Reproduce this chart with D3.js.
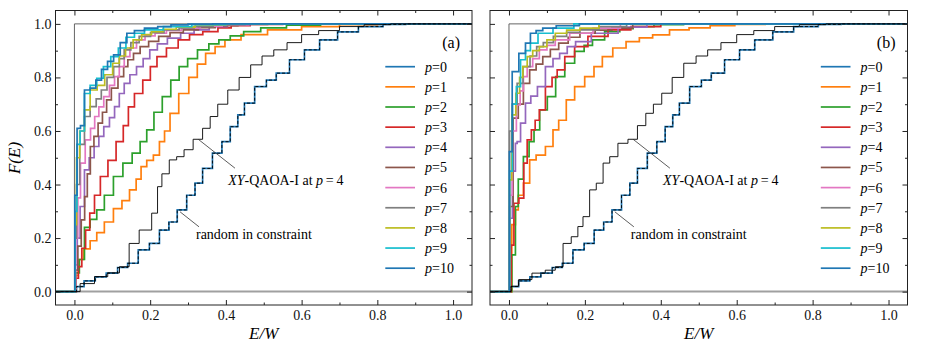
<!DOCTYPE html>
<html><head><meta charset="utf-8">
<script src="https://cdn.jsdelivr.net/npm/d3@7"></script>
<style>body{margin:0;background:#fff} text{font-family:"Liberation Serif","Times New Roman",serif;}</style>
</head><body><svg id="c" width="926" height="347"></svg>
<script>
// ---------- data (E/W, F(E)) ----------
const seriesNames = ["p=0","p=1","p=2","p=3","p=4","p=5","p=6","p=7","p=8","p=9","p=10"];
const colors = ["#1f77b4","#ff7f0e","#2ca02c","#d62728","#9467bd","#8c564b","#e377c2","#7f7f7f","#bcbd22","#17becf","#1f77b4"];
const xTicks = [0,0.2,0.4,0.6,0.8,1.0];
const yTicks = [0,0.2,0.4,0.6,0.8,1.0];
const minorTicks = [0.1,0.3,0.5,0.7,0.9];

// random in constraint (also p=0)
const rnd = [[0,0],[0.011,0.019],[0.04,0.04],[0.07,0.055],[0.098,0.069],[0.13,0.09],[0.151,0.106],[0.186,0.156],[0.21,0.18],[0.239,0.23],[0.26,0.26],[0.283,0.305],[0.31,0.36],[0.327,0.405],[0.35,0.46],[0.379,0.517],[0.4,0.56],[0.423,0.616],[0.44,0.66],[0.458,0.704],[0.494,0.766],[0.52,0.79],[0.546,0.816],[0.59,0.866],[0.625,0.903],[0.67,0.94],[0.72,0.97],[0.78,0.99],[0.85,0.998],[0.9,1]];

// panel (a)
const a_p1 = [[0,0],[0.005,0.06],[0.015,0.12],[0.033,0.16],[0.05,0.19],[0.068,0.22],[0.09,0.26],[0.116,0.31],[0.135,0.34],[0.156,0.38],[0.17,0.42],[0.182,0.467],[0.2,0.49],[0.217,0.51],[0.232,0.56],[0.244,0.6],[0.261,0.666],[0.29,0.74],[0.314,0.8],[0.335,0.85],[0.358,0.89],[0.385,0.915],[0.41,0.94],[0.47,0.96],[0.55,0.978],[0.65,0.99],[0.75,0.997],[0.85,1]];
const a_p2 = [[0,0],[0.006,0.07],[0.02,0.12],[0.033,0.24],[0.05,0.27],[0.068,0.305],[0.09,0.36],[0.116,0.43],[0.14,0.48],[0.165,0.517],[0.182,0.56],[0.2,0.604],[0.22,0.67],[0.244,0.728],[0.265,0.79],[0.288,0.84],[0.31,0.87],[0.34,0.903],[0.37,0.925],[0.393,0.94],[0.43,0.955],[0.464,0.971],[0.52,0.985],[0.6,0.995],[0.7,1]];
const a_p3 = [[0,0],[0.006,0.05],[0.015,0.093],[0.024,0.162],[0.035,0.23],[0.046,0.293],[0.06,0.36],[0.077,0.43],[0.1,0.49],[0.12,0.56],[0.138,0.62],[0.147,0.69],[0.17,0.74],[0.191,0.79],[0.21,0.84],[0.226,0.878],[0.26,0.91],[0.288,0.94],[0.32,0.96],[0.358,0.971],[0.4,0.985],[0.428,0.993],[0.5,0.998],[0.6,1]];
const a_p4 = [[0,0],[0.005,0.1],[0.01,0.2],[0.02,0.318],[0.033,0.455],[0.045,0.5],[0.059,0.542],[0.07,0.58],[0.085,0.616],[0.1,0.65],[0.112,0.691],[0.125,0.74],[0.138,0.778],[0.155,0.81],[0.173,0.84],[0.19,0.87],[0.208,0.903],[0.23,0.925],[0.261,0.947],[0.3,0.965],[0.332,0.978],[0.38,0.99],[0.428,0.996],[0.5,1]];
const a_p5 = [[0,0],[0.006,0.08],[0.012,0.17],[0.024,0.268],[0.03,0.355],[0.038,0.44],[0.046,0.542],[0.057,0.58],[0.068,0.629],[0.08,0.67],[0.09,0.716],[0.105,0.76],[0.125,0.803],[0.135,0.84],[0.147,0.866],[0.165,0.89],[0.182,0.915],[0.21,0.935],[0.235,0.953],[0.27,0.967],[0.305,0.978],[0.35,0.986],[0.393,0.993],[0.47,0.998],[0.55,1]];
const a_p6 = [[0,0],[0.006,0.2],[0.012,0.35],[0.02,0.48],[0.037,0.567],[0.048,0.61],[0.059,0.654],[0.07,0.69],[0.085,0.728],[0.1,0.77],[0.112,0.803],[0.125,0.84],[0.138,0.878],[0.155,0.91],[0.173,0.94],[0.2,0.955],[0.226,0.965],[0.26,0.976],[0.305,0.984],[0.36,0.992],[0.42,0.997],[0.5,1]];
const a_p7 = [[0,0],[0.003,0.2],[0.008,0.4],[0.02,0.55],[0.033,0.654],[0.05,0.691],[0.065,0.72],[0.077,0.753],[0.095,0.8],[0.112,0.84],[0.125,0.87],[0.138,0.903],[0.16,0.93],[0.182,0.953],[0.22,0.967],[0.253,0.978],[0.3,0.985],[0.332,0.99],[0.4,0.997],[0.5,1]];
const a_p8 = [[0,0],[0.003,0.25],[0.008,0.5],[0.02,0.6],[0.033,0.679],[0.05,0.753],[0.07,0.77],[0.09,0.81],[0.112,0.853],[0.125,0.88],[0.145,0.91],[0.165,0.94],[0.19,0.96],[0.217,0.971],[0.25,0.98],[0.288,0.988],[0.35,0.996],[0.45,1]];
const a_p9 = [[0,0],[0.003,0.3],[0.01,0.55],[0.02,0.6],[0.033,0.74],[0.05,0.77],[0.068,0.797],[0.085,0.84],[0.107,0.878],[0.125,0.91],[0.147,0.95],[0.17,0.965],[0.2,0.978],[0.27,0.99],[0.35,0.997],[0.45,1]];
const a_p10 = [[0,0],[0.002,0.36],[0.012,0.61],[0.02,0.62],[0.033,0.753],[0.05,0.76],[0.063,0.79],[0.08,0.83],[0.095,0.86],[0.112,0.884],[0.13,0.93],[0.147,0.965],[0.17,0.975],[0.2,0.984],[0.24,0.99],[0.27,0.996],[0.33,0.999],[0.4,1]];
const a_xy = [[0,0],[0.03,0.03],[0.076,0.056],[0.1,0.07],[0.138,0.093],[0.151,0.18],[0.191,0.23],[0.217,0.293],[0.222,0.392],[0.24,0.44],[0.261,0.492],[0.279,0.504],[0.3,0.53],[0.327,0.569],[0.35,0.61],[0.367,0.654],[0.39,0.7],[0.42,0.753],[0.45,0.8],[0.481,0.847],[0.51,0.88],[0.543,0.903],[0.58,0.93],[0.62,0.96],[0.67,0.975],[0.73,0.99],[0.8,0.997],[0.87,1]];

// panel (b)
const b_p1 = [[0,0],[0.015,0.25],[0.019,0.305],[0.03,0.36],[0.046,0.405],[0.063,0.492],[0.08,0.51],[0.112,0.542],[0.12,0.604],[0.142,0.64],[0.16,0.716],[0.186,0.766],[0.213,0.803],[0.235,0.84],[0.257,0.878],[0.29,0.91],[0.327,0.934],[0.36,0.948],[0.397,0.959],[0.449,0.978],[0.5,0.985],[0.56,0.993],[0.63,0.998],[0.72,1]];
const b_p2 = [[0,0],[0.015,0.137],[0.019,0.318],[0.03,0.42],[0.046,0.504],[0.06,0.56],[0.072,0.604],[0.09,0.679],[0.112,0.728],[0.134,0.803],[0.16,0.853],[0.186,0.897],[0.21,0.92],[0.23,0.94],[0.274,0.971],[0.31,0.982],[0.344,0.99],[0.42,0.997],[0.5,1]];
const b_p3 = [[0,0],[0.011,0.174],[0.015,0.33],[0.037,0.349],[0.041,0.48],[0.055,0.567],[0.063,0.604],[0.075,0.64],[0.085,0.679],[0.107,0.766],[0.12,0.8],[0.134,0.828],[0.16,0.878],[0.186,0.915],[0.23,0.953],[0.292,0.978],[0.35,0.99],[0.45,1]];
const b_p4 = [[0,0],[0.003,0.274],[0.015,0.45],[0.019,0.554],[0.024,0.56],[0.037,0.629],[0.05,0.704],[0.065,0.73],[0.085,0.766],[0.107,0.84],[0.125,0.87],[0.142,0.89],[0.165,0.915],[0.186,0.934],[0.248,0.965],[0.327,0.988],[0.4,1]];
const b_p5 = [[0,0],[0.003,0.318],[0.019,0.648],[0.03,0.7],[0.046,0.778],[0.063,0.828],[0.08,0.85],[0.098,0.878],[0.12,0.905],[0.142,0.928],[0.17,0.95],[0.204,0.965],[0.25,0.977],[0.292,0.984],[0.36,1]];
const b_p6 = [[0,0],[0.003,0.36],[0.015,0.6],[0.024,0.697],[0.035,0.75],[0.041,0.803],[0.055,0.84],[0.07,0.87],[0.09,0.903],[0.11,0.92],[0.134,0.94],[0.186,0.965],[0.257,0.984],[0.33,1]];
const b_p7 = [[0,0],[0.003,0.6],[0.015,0.7],[0.028,0.778],[0.046,0.84],[0.065,0.88],[0.081,0.915],[0.1,0.93],[0.134,0.953],[0.17,0.968],[0.204,0.978],[0.27,0.99],[0.35,1]];
const b_p8 = [[0,0],[0.003,0.417],[0.012,0.66],[0.024,0.741],[0.032,0.8],[0.041,0.84],[0.055,0.878],[0.07,0.9],[0.09,0.915],[0.11,0.94],[0.134,0.965],[0.17,0.977],[0.204,0.984],[0.27,1]];
const b_p9 = [[0,0],[0.003,0.45],[0.015,0.7],[0.024,0.766],[0.037,0.866],[0.05,0.9],[0.063,0.928],[0.09,0.965],[0.142,0.984],[0.2,1]];
const b_p10 = [[0,0],[0.002,0.523],[0.015,0.822],[0.037,0.89],[0.05,0.928],[0.063,0.965],[0.08,0.975],[0.098,0.984],[0.151,0.993],[0.22,1]];
const b_xy = [[0,0],[0.011,0.02],[0.04,0.045],[0.081,0.069],[0.11,0.08],[0.134,0.093],[0.151,0.18],[0.177,0.205],[0.186,0.243],[0.204,0.28],[0.221,0.38],[0.239,0.405],[0.257,0.48],[0.274,0.504],[0.3,0.554],[0.327,0.569],[0.35,0.62],[0.371,0.666],[0.39,0.7],[0.415,0.741],[0.445,0.8],[0.476,0.853],[0.51,0.88],[0.537,0.903],[0.58,0.93],[0.62,0.96],[0.67,0.975],[0.73,0.99],[0.8,0.997],[0.87,1]];

const panelA = [rnd, a_p1, a_p2, a_p3, a_p4, a_p5, a_p6, a_p7, a_p8, a_p9, a_p10];
const panelB = [rnd, b_p1, b_p2, b_p3, b_p4, b_p5, b_p6, b_p7, b_p8, b_p9, b_p10];

// ---------- drawing ----------
const svg = d3.select("#c");
const plotTop = 10.5, plotBottom = 305;
const panels = [
  {x0: 55.5, x1: 472, curves: panelA, xy: a_xy, label: "(a)", yLabels: true},
  {x0: 490, x1: 907.5, curves: panelB, xy: b_xy, label: "(b)", yLabels: false}
];

panels.forEach(P => {
  const x = d3.scaleLinear().domain([-0.05, 1.05]).range([P.x0, P.x1]);
  const y = d3.scaleLinear().domain([-0.05, 1.05]).range([plotBottom, plotTop]);
  const g = svg.append("g");
  const clipId = "clip" + P.label.replace(/\W/g, "");
  svg.append("clipPath").attr("id", clipId).append("rect")
    .attr("x", P.x0).attr("y", plotTop).attr("width", P.x1 - P.x0).attr("height", plotBottom - plotTop);
  const plot = g.append("g").attr("clip-path", `url(#${clipId})`);

  const line = d3.line().x(d => x(d[0])).y(d => y(d[1])).curve(d3.curveStep);
  const ext = pts => [[-0.05, 0], ...pts, [1.05, pts[pts.length - 1][1]]];

  // reference lines
  plot.append("path").attr("d", d3.line().x(d => x(d[0])).y(d => y(d[1]))([[0, 0], [1.05, 0]]))
    .attr("fill", "none").attr("stroke", "#a0a0a0").attr("stroke-width", 2);
  plot.append("path").attr("d", d3.line().x(d => x(d[0])).y(d => y(d[1]))([[0, 0], [0, 1], [1.05, 1]]))
    .attr("fill", "none").attr("stroke", "#555").attr("stroke-width", 0.9);

  // p curves
  P.curves.forEach((pts, i) => {
    plot.append("path").attr("d", line(ext(pts)))
      .attr("fill", "none").attr("stroke", colors[i]).attr("stroke-width", 1.7);
  });
  // XY-QAOA-I at p=4
  plot.append("path").attr("d", line(ext(P.xy)))
    .attr("fill", "none").attr("stroke", "#000").attr("stroke-width", 0.9);
  // random in constraint (dashed)
  plot.append("path").attr("d", line(ext(rnd)))
    .attr("fill", "none").attr("stroke", "#000").attr("stroke-width", 0.9)
    .attr("stroke-dasharray", "3,2");

  // frame
  g.append("rect").attr("x", P.x0).attr("y", plotTop).attr("width", P.x1 - P.x0).attr("height", plotBottom - plotTop)
    .attr("fill", "none").attr("stroke", "#222").attr("stroke-width", 1);

  // axes (inward ticks)
  const fmt = d3.format(".1f");
  const axB = g.append("g").attr("transform", `translate(0,${plotBottom})`)
    .call(d3.axisBottom(x).tickValues(xTicks).tickSize(-5).tickPadding(5).tickFormat(fmt));
  const axBm = g.append("g").attr("transform", `translate(0,${plotBottom})`)
    .call(d3.axisBottom(x).tickValues(minorTicks).tickSize(-2.5).tickFormat(""));
  const axT = g.append("g").attr("transform", `translate(0,${plotTop})`)
    .call(d3.axisTop(x).tickValues(xTicks).tickSize(-5).tickFormat(""));
  const axTm = g.append("g").attr("transform", `translate(0,${plotTop})`)
    .call(d3.axisTop(x).tickValues(minorTicks).tickSize(-2.5).tickFormat(""));
  const axL = g.append("g").attr("transform", `translate(${P.x0},0)`)
    .call(d3.axisLeft(y).tickValues(yTicks).tickSize(-5).tickPadding(4).tickFormat(P.yLabels ? fmt : ""));
  const axLm = g.append("g").attr("transform", `translate(${P.x0},0)`)
    .call(d3.axisLeft(y).tickValues(minorTicks).tickSize(-2.5).tickFormat(""));
  const axR = g.append("g").attr("transform", `translate(${P.x1},0)`)
    .call(d3.axisRight(y).tickValues(yTicks).tickSize(-5).tickFormat(""));
  const axRm = g.append("g").attr("transform", `translate(${P.x1},0)`)
    .call(d3.axisRight(y).tickValues(minorTicks).tickSize(-2.5).tickFormat(""));
  [axB, axBm, axT, axTm, axL, axLm, axR, axRm].forEach(a => {
    a.attr("font-family", null);
    a.select(".domain").remove();
    a.selectAll("line").attr("stroke", "#222");
    a.selectAll("text").style("font-family", '"Liberation Serif", serif').attr("font-size", 14).attr("fill", "#111");
  });

  // x label
  g.append("text").attr("x", (P.x0 + P.x1) / 2).attr("y", 339).attr("text-anchor", "middle")
    .attr("font-size", 17).attr("font-style", "italic").text("E/W");

  // panel label
  g.append("text").attr("x", P.x1 - 12).attr("y", 48).attr("text-anchor", "end")
    .attr("font-size", 16).text(P.label);

  // legend
  seriesNames.forEach((name, i) => {
    const ly = plotTop + 56.2 + i * 20.15;
    g.append("line").attr("x1", P.x1 - 86.7).attr("x2", P.x1 - 57).attr("y1", ly).attr("y2", ly)
      .attr("stroke", colors[i]).attr("stroke-width", 1.7);
    const t = g.append("text").attr("x", P.x1 - 47).attr("y", ly + 5).attr("font-size", 14);
    t.append("tspan").attr("font-style", "italic").text("p");
    t.append("tspan").text(name.slice(1));
  });

  // annotations
  g.append("line").attr("x1", x(0.327)).attr("y1", y(0.569)).attr("x2", x(0.424)).attr("y2", y(0.461))
    .attr("stroke", "#333").attr("stroke-width", 0.8);
  const t1 = g.append("text").attr("x", x(0.406)).attr("y", y(0.397)).attr("font-size", 14);
  t1.append("tspan").attr("font-style", "italic").text("XY");
  t1.append("tspan").text("-QAOA-I at ");
  t1.append("tspan").attr("font-style", "italic").text("p");
  t1.append("tspan").text("\u2009=\u20094");

  g.append("line").attr("x1", x(0.279)).attr("y1", y(0.298)).attr("x2", x(0.329)).attr("y2", y(0.242))
    .attr("stroke", "#333").attr("stroke-width", 0.8);
  g.append("text").attr("x", x(0.321)).attr("y", y(0.196)).attr("font-size", 14).text("random in constraint");
});

// y label
svg.append("text").attr("transform", "translate(20,158) rotate(-90)").attr("text-anchor", "middle")
  .attr("font-size", 17).attr("font-style", "italic").text("F(E)");
</script></body></html>
